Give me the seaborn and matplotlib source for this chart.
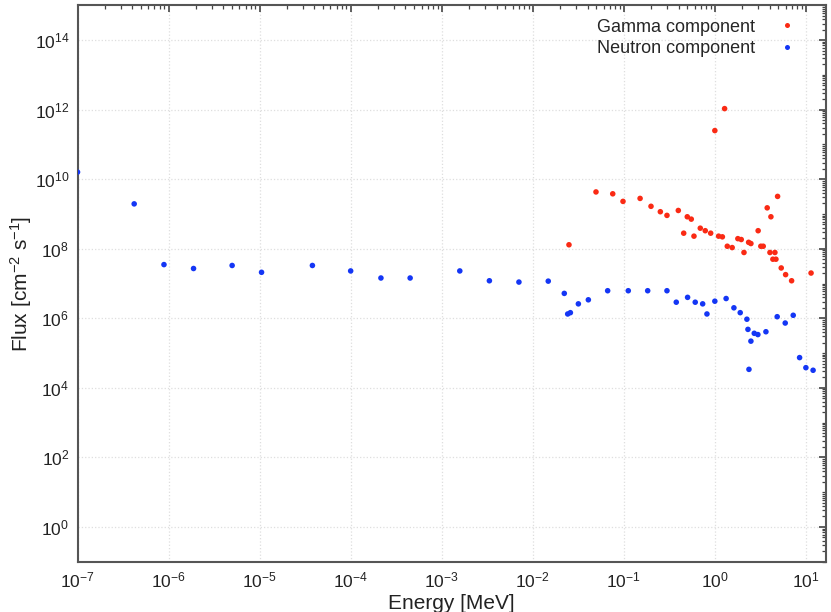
import numpy as np
import pandas as pd
import matplotlib
matplotlib.use("Agg")
import matplotlib.pyplot as plt
import matplotlib.ticker as mticker
import seaborn as sns

# ---- data ------------------------------------------------------------
gamma_energy = [0.025, 0.0495, 0.0756, 0.098, 0.151, 0.199, 0.252, 0.298,
                0.397, 0.455, 0.498, 0.551, 0.590, 0.692, 0.785, 0.90,
                1.0, 1.10, 1.21, 1.28, 1.37, 1.55, 1.79, 1.95, 2.09, 2.35,
                2.49, 2.99, 3.2, 3.4, 3.76, 4.03, 4.13, 4.34, 4.57, 4.69,
                4.89, 5.36, 5.99, 6.97, 11.4]
gamma_flux = [1.3e8, 4.3e9, 3.8e9, 2.3e9, 2.8e9, 1.66e9, 1.16e9, 9.1e8,
              1.26e9, 2.8e8, 8.3e8, 7.1e8, 2.3e8, 3.9e8, 3.3e8, 2.8e8,
              2.5e11, 2.3e8, 2.2e8, 1.07e12, 1.18e8, 1.08e8, 1.95e8, 1.84e8,
              7.8e7, 1.53e8, 1.41e8, 3.3e8, 1.18e8, 1.18e8, 1.5e9, 7.8e7,
              8.3e8, 5.0e7, 7.8e7, 5.0e7, 3.2e9, 2.8e7, 1.8e7, 1.2e7, 2.0e7]

neutron_energy = [1e-7, 4.19e-7, 8.9e-7, 1.88e-6, 4.99e-6, 1.05e-5, 3.8e-5,
                  1.0e-4, 2.15e-4, 4.5e-4, 1.58e-3, 3.34e-3, 7.05e-3, 0.0148,
                  0.0222, 0.0242, 0.0259, 0.0317, 0.0408, 0.0665, 0.112,
                  0.183, 0.298, 0.377, 0.502, 0.609, 0.735, 0.819, 1.0, 1.33,
                  1.62, 1.90, 2.25, 2.31, 2.37, 2.49, 2.71, 2.97, 3.64, 4.84,
                  5.93, 7.26, 8.53, 10.0, 12.0]
neutron_flux = [1.6e10, 1.95e9, 3.5e7, 2.7e7, 3.3e7, 2.1e7, 3.3e7, 2.3e7,
                1.44e7, 1.44e7, 2.3e7, 1.2e7, 1.1e7, 1.17e7, 5.2e6, 1.33e6,
                1.45e6, 2.6e6, 3.4e6, 6.2e6, 6.2e6, 6.2e6, 6.2e6, 2.9e6,
                4.0e6, 2.9e6, 2.6e6, 1.33e6, 3.1e6, 3.7e6, 2.0e6, 1.45e6,
                9.4e5, 4.8e5, 3.4e4, 2.2e5, 3.7e5, 3.4e5, 4.1e5, 1.11e6,
                7.3e5, 1.22e6, 7.4e4, 3.8e4, 3.2e4]

labels = ["Gamma component", "Neutron component"]
colors = {"Gamma component": "#fa2a14", "Neutron component": "#1436f5"}

df = pd.concat([
    pd.DataFrame({"energy": gamma_energy, "flux": gamma_flux,
                  "component": labels[0]}),
    pd.DataFrame({"energy": neutron_energy, "flux": neutron_flux,
                  "component": labels[1]}),
], ignore_index=True)

sns.set_theme(style="white")
plt.rcParams["font.family"] = ["Liberation Sans", "DejaVu Sans"]
plt.rcParams["mathtext.default"] = "regular"
plt.rcParams["axes.unicode_minus"] = False

fig = plt.figure(figsize=(8.31, 6.12), dpi=100)
ax = fig.add_axes([0.0933, 0.0822, 0.9003, 0.9091])

sns.scatterplot(data=df, x="energy", y="flux", hue="component",
                hue_order=labels, palette=colors, s=16, linewidth=0,
                ax=ax, legend=False, zorder=3)

ax.set_xscale("log")
ax.set_yscale("log")
ax.set_xlim(1e-7, 16.5)
ax.set_ylim(1e-1, 1e15)

ax.xaxis.set_major_locator(mticker.FixedLocator([10.0 ** k for k in range(-7, 2)]))
ax.yaxis.set_major_locator(mticker.FixedLocator([10.0 ** k for k in range(0, 15, 2)]))
ax.xaxis.set_major_formatter(mticker.LogFormatterSciNotation())
ax.yaxis.set_major_formatter(mticker.LogFormatterSciNotation())
ax.xaxis.set_minor_locator(mticker.LogLocator(base=10, subs=np.arange(2, 10), numticks=100))
ax.yaxis.set_minor_locator(mticker.LogLocator(base=10, subs=np.arange(1, 10), numticks=100))
ax.xaxis.set_minor_formatter(mticker.NullFormatter())
ax.yaxis.set_minor_formatter(mticker.NullFormatter())

ax.tick_params(which="both", direction="in", top=True, right=True,
               colors="#444444", labelcolor="#222222")
ax.tick_params(which="major", length=5, width=1.2, labelsize=12.5, pad=6)
ax.tick_params(which="minor", length=3, width=0.9)
for sp in ax.spines.values():
    sp.set_color("#555555")
    sp.set_linewidth(1.5)

ax.grid(True, which="major", linestyle=":", color="#dedede", linewidth=0.9)

ax.set_xlabel("Energy [MeV]", fontsize=15, color="#222222")
ax.set_ylabel(r"Flux [cm$^{-2}$ s$^{-1}$]", fontsize=15, color="#222222")
ax.xaxis.set_label_coords(0.5, -0.058)
ax.yaxis.set_label_coords(-0.058, 0.5)

handles = [plt.Line2D([], [], linestyle="", marker="o", markersize=3.6,
                      markeredgewidth=0, color=colors[l]) for l in labels]
ax.legend(handles, labels, loc="upper right", frameon=False,
          markerfirst=False, fontsize=13, handlelength=1.2,
          handletextpad=1.2, labelspacing=0.25,
          bbox_to_anchor=(0.985, 1.005))

fig.savefig("out.png", dpi=100)
